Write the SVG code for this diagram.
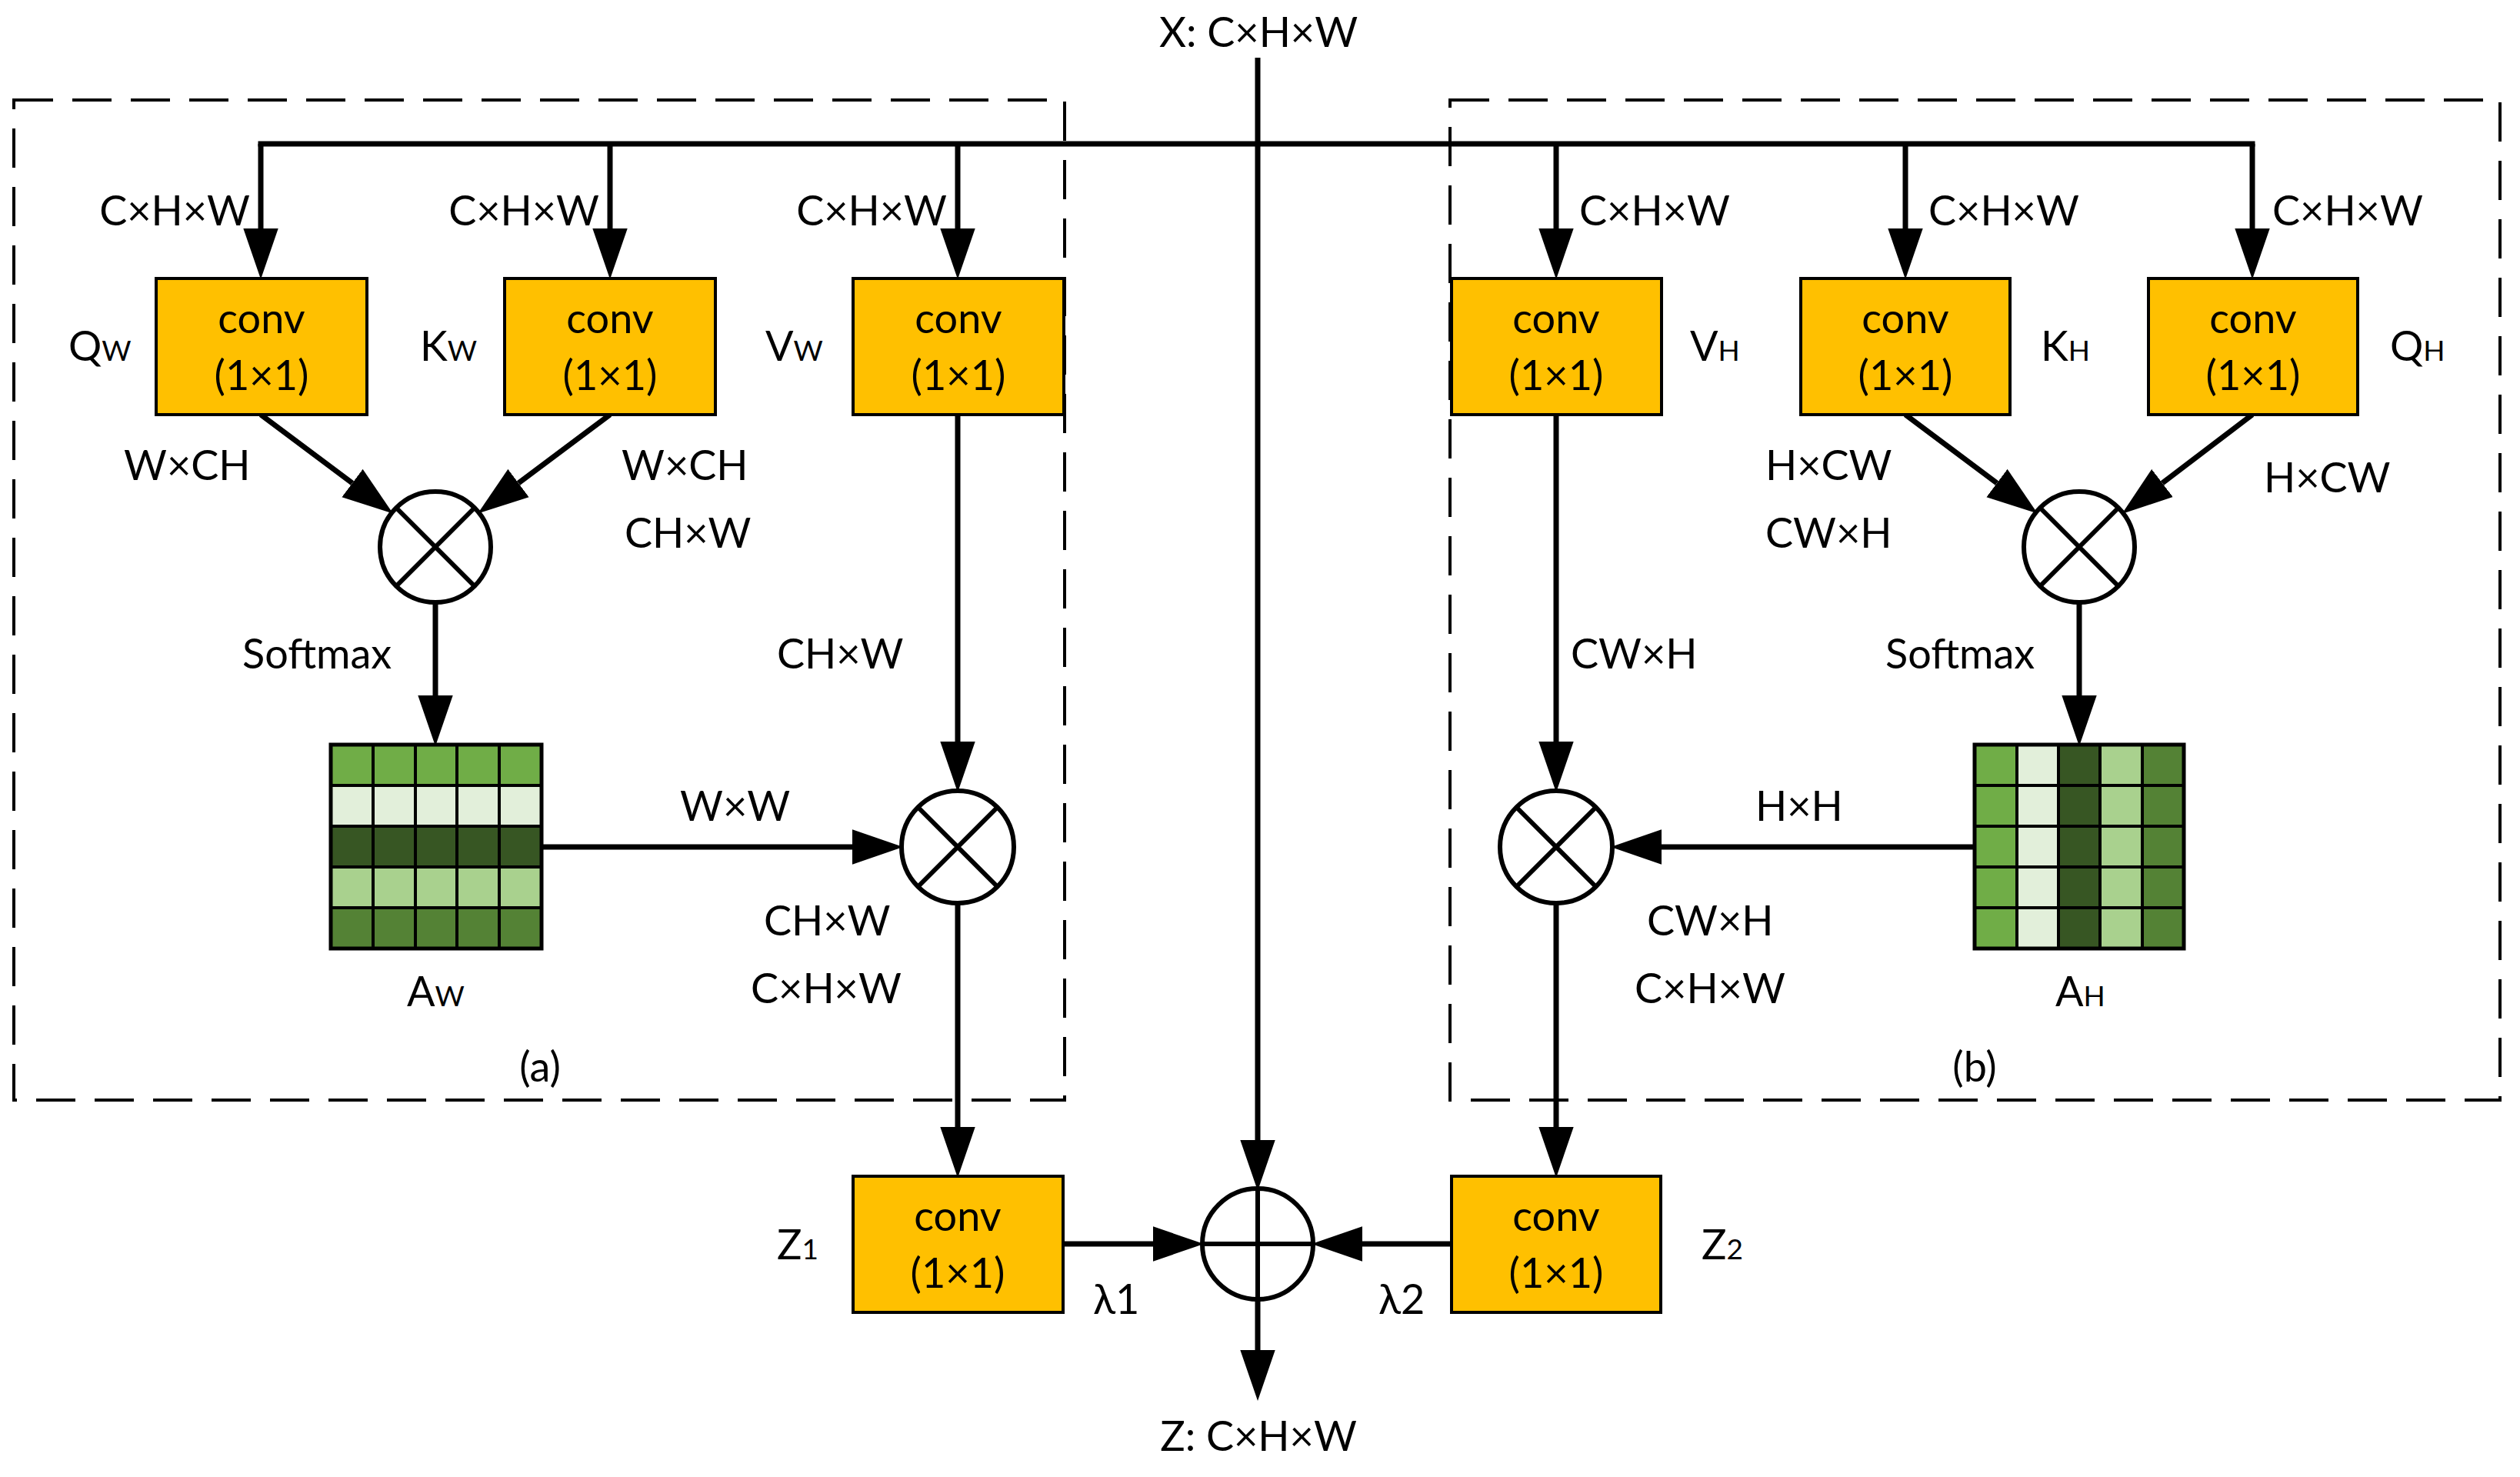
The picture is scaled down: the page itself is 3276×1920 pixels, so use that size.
<svg xmlns="http://www.w3.org/2000/svg" width="3276" height="1920" viewBox="0 0 3276 1920">
<style>
text{font-family:Lato,"Liberation Sans",sans-serif;font-size:54px;fill:#000}
.sub{font-size:37px}
.mid{text-anchor:middle}
.end{text-anchor:end}
.conv{fill:#FFC000;stroke:#000;stroke-width:4}
.dash{fill:none;stroke:#000;stroke-width:4;stroke-dasharray:51 25}
.ln{fill:none;stroke:#000;stroke-width:7}
.arr{fill:none;stroke:#000;stroke-width:7;marker-end:url(#ah)}
.op{fill:#fff;stroke:#000;stroke-width:6}
.opl{stroke:#000;stroke-width:6}
.grid{stroke:#000;stroke-width:4}
.c1{fill:#70AD47}.c2{fill:#E2EFDA}.c3{fill:#375623}.c4{fill:#A9D18E}.c5{fill:#548235}
</style>
<defs>
<marker id="ah" markerUnits="userSpaceOnUse" markerWidth="66" markerHeight="46" viewBox="0 0 64 44" refX="0" refY="22" orient="auto">
<path d="M0,0 L64,22 L0,44 Z" fill="#000"/>
</marker>
</defs>
<rect width="3276" height="1920" fill="#fff"/>

<g id="panel-a">
<rect class="dash" x="18" y="130" width="1366" height="1300"/>
<text x="702" y="1406" class="mid">(a)</text>
</g>
<g id="panel-b">
<rect class="dash" x="1885" y="130" width="1365" height="1300"/>
<text x="2567" y="1406" class="mid">(b)</text>
</g>

<g id="connectors">
<path class="ln" d="M339,187 H2928" stroke-linecap="square"/>
<path class="arr" d="M339,187 V297"/>
<path class="arr" d="M793,187 V297"/>
<path class="arr" d="M1245,187 V297"/>
<path class="arr" d="M2023,187 V297"/>
<path class="arr" d="M2477,187 V297"/>
<path class="arr" d="M2928,187 V297"/>
<path class="arr" d="M1635,75 V1482"/>
<path class="arr" d="M339,539 L458,628"/>
<path class="arr" d="M793,539 L674,628"/>
<path class="arr" d="M566,783 V904"/>
<path class="arr" d="M704,1101 H1108"/>
<path class="arr" d="M1245,539 V964"/>
<path class="arr" d="M1245,1174 V1465"/>
<path class="arr" d="M1382,1617 H1499"/>
<path class="arr" d="M1886,1617 H1771"/>
<path class="arr" d="M1635,1689 V1755"/>
<path class="arr" d="M2477,539 L2596,628"/>
<path class="arr" d="M2928,539 L2811,628"/>
<path class="arr" d="M2703,783 V904"/>
<path class="arr" d="M2567,1101 H2160"/>
<path class="arr" d="M2023,539 V964"/>
<path class="arr" d="M2023,1174 V1465"/>
</g>

<g id="conv-qw"><rect class="conv" x="203" y="362" width="274" height="177"/><text x="340" y="433" class="mid">conv</text><text x="340" y="507" class="mid">(1×1)</text></g>
<g id="conv-kw"><rect class="conv" x="656" y="362" width="274" height="177"/><text x="793" y="433" class="mid">conv</text><text x="793" y="507" class="mid">(1×1)</text></g>
<g id="conv-vw"><rect class="conv" x="1109" y="362" width="274" height="177"/><text x="1246" y="433" class="mid">conv</text><text x="1246" y="507" class="mid">(1×1)</text></g>
<g id="conv-vh"><rect class="conv" x="1887" y="362" width="273" height="177"/><text x="2023" y="433" class="mid">conv</text><text x="2023" y="507" class="mid">(1×1)</text></g>
<g id="conv-kh"><rect class="conv" x="2341" y="362" width="272" height="177"/><text x="2477" y="433" class="mid">conv</text><text x="2477" y="507" class="mid">(1×1)</text></g>
<g id="conv-qh"><rect class="conv" x="2793" y="362" width="272" height="177"/><text x="2929" y="433" class="mid">conv</text><text x="2929" y="507" class="mid">(1×1)</text></g>
<g id="conv-z1"><rect class="conv" x="1109" y="1529" width="273" height="177"/><text x="1245" y="1600" class="mid">conv</text><text x="1245" y="1674" class="mid">(1×1)</text></g>
<g id="conv-z2"><rect class="conv" x="1887" y="1529" width="272" height="177"/><text x="2023" y="1600" class="mid">conv</text><text x="2023" y="1674" class="mid">(1×1)</text></g>

<g id="mul-w1"><circle class="op" cx="566" cy="711" r="72"/><path class="opl" d="M515,660 L617,762 M617,660 L515,762"/></g>
<g id="mul-w2"><circle class="op" cx="1245" cy="1101" r="73"/><path class="opl" d="M1193,1049 L1297,1153 M1297,1049 L1193,1153"/></g>
<g id="mul-h1"><circle class="op" cx="2703" cy="711" r="72"/><path class="opl" d="M2652,660 L2754,762 M2754,660 L2652,762"/></g>
<g id="mul-h2"><circle class="op" cx="2023" cy="1101" r="73"/><path class="opl" d="M1971,1049 L2075,1153 M2075,1049 L1971,1153"/></g>
<g id="add"><circle class="op" cx="1635" cy="1617" r="72"/><path class="opl" d="M1563,1617 H1707 M1635,1545 V1689"/></g>

<g id="matrix-aw">
<rect class="c1" x="430" y="968" width="274" height="53"/>
<rect class="c2" x="430" y="1021" width="274" height="53"/>
<rect class="c3" x="430" y="1074" width="274" height="53"/>
<rect class="c4" x="430" y="1127" width="274" height="53"/>
<rect class="c5" x="430" y="1180" width="274" height="53"/>
<path class="grid" d="M485,968 V1233 M540,968 V1233 M594,968 V1233 M649,968 V1233 M430,1021 H704 M430,1074 H704 M430,1127 H704 M430,1180 H704"/>
<rect x="430" y="968" width="274" height="265" fill="none" stroke="#000" stroke-width="5"/>
<text x="529" y="1308">A<tspan class="sub">W</tspan></text>
</g>
<g id="matrix-ah">
<rect class="c1" x="2567" y="968" width="55" height="265"/>
<rect class="c2" x="2622" y="968" width="54" height="265"/>
<rect class="c3" x="2676" y="968" width="54" height="265"/>
<rect class="c4" x="2730" y="968" width="55" height="265"/>
<rect class="c5" x="2785" y="968" width="54" height="265"/>
<path class="grid" d="M2622,968 V1233 M2676,968 V1233 M2730,968 V1233 M2785,968 V1233 M2567,1021 H2839 M2567,1074 H2839 M2567,1127 H2839 M2567,1180 H2839"/>
<rect x="2567" y="968" width="272" height="265" fill="none" stroke="#000" stroke-width="5"/>
<text x="2672" y="1308">A<tspan class="sub">H</tspan></text>
</g>

<g id="labels">
<text x="1636" y="61" class="mid">X: C×H×W</text>
<text x="1636" y="1886" class="mid">Z: C×H×W</text>
<text x="325" y="293" class="end">C×H×W</text>
<text x="779" y="293" class="end">C×H×W</text>
<text x="1231" y="293" class="end">C×H×W</text>
<text x="2053" y="293">C×H×W</text>
<text x="2507" y="293">C×H×W</text>
<text x="2954" y="293">C×H×W</text>
<text x="89" y="469">Q<tspan class="sub">W</tspan></text>
<text x="546" y="469">K<tspan class="sub">W</tspan></text>
<text x="995" y="469">V<tspan class="sub">W</tspan></text>
<text x="2197" y="469">V<tspan class="sub">H</tspan></text>
<text x="2653" y="469">K<tspan class="sub">H</tspan></text>
<text x="3107" y="469">Q<tspan class="sub">H</tspan></text>
<text x="161" y="624">W×CH</text>
<text x="808" y="624">W×CH</text>
<text x="812" y="712">CH×W</text>
<text x="315" y="869">Softmax</text>
<text x="1010" y="869">CH×W</text>
<text x="884" y="1067">W×W</text>
<text x="993" y="1216">CH×W</text>
<text x="976" y="1304">C×H×W</text>
<text x="2295" y="624">H×CW</text>
<text x="2295" y="712">CW×H</text>
<text x="2943" y="640">H×CW</text>
<text x="2042" y="869">CW×H</text>
<text x="2451" y="869">Softmax</text>
<text x="2282" y="1067">H×H</text>
<text x="2141" y="1216">CW×H</text>
<text x="2125" y="1304">C×H×W</text>
<text x="1010" y="1637">Z<tspan class="sub">1</tspan></text>
<text x="2212" y="1637">Z<tspan class="sub">2</tspan></text>
<text x="1421" y="1708">λ1</text>
<text x="1792" y="1708">λ2</text>
</g>
</svg>
